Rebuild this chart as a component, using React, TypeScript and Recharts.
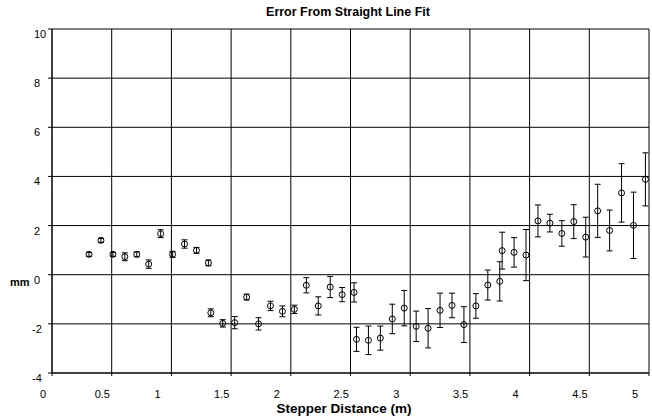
import React from "react";
import { ScatterChart, Scatter, XAxis, YAxis, CartesianGrid, ErrorBar } from "recharts";

const distances = [
  0.31, 0.41, 0.51, 0.61, 0.71, 0.81, 0.91, 1.01, 1.11, 1.21, 1.31,
  1.33, 1.43, 1.53, 1.63, 1.73, 1.83, 1.93, 2.03, 2.13, 2.23, 2.33, 2.43, 2.53,
  2.55, 2.65, 2.75, 2.85, 2.95, 3.05, 3.15, 3.25, 3.35, 3.45, 3.55, 3.65, 3.75,
  3.77, 3.87, 3.97, 4.07, 4.17, 4.27, 4.37, 4.47, 4.57, 4.67, 4.77, 4.87, 4.97,
];
const errorsMm = [
  0.83, 1.4, 0.83, 0.73, 0.83, 0.43, 1.67, 0.83, 1.25, 0.99, 0.48,
  -1.55, -1.98, -1.95, -0.91, -2.0, -1.27, -1.49, -1.41, -0.43, -1.27, -0.5, -0.81, -0.72,
  -2.63, -2.67, -2.58, -1.8, -1.36, -2.1, -2.18, -1.45, -1.25, -2.03, -1.27, -0.42, -0.27,
  0.98, 0.91, 0.8, 2.19, 2.1, 1.68, 2.16, 1.53, 2.6, 1.8, 3.33, 2.01, 3.88,
];
const uncertainty = [
  0.08, 0.08, 0.08, 0.16, 0.1, 0.17, 0.16, 0.12, 0.17, 0.12, 0.12,
  0.16, 0.15, 0.25, 0.12, 0.25, 0.19, 0.22, 0.17, 0.31, 0.37, 0.43, 0.29, 0.39,
  0.49, 0.58, 0.49, 0.6, 0.72, 0.62, 0.8, 0.7, 0.5, 0.73, 0.5, 0.61, 0.8,
  0.75, 0.6, 1.04, 0.65, 0.36, 0.52, 0.69, 0.81, 1.08, 0.83, 1.19, 1.35, 1.08,
];
const xTicks = [0, 0.5, 1, 1.5, 2, 2.5, 3, 3.5, 4, 4.5, 5];
const yTicks = [-4, -2, 0, 2, 4, 6, 8, 10];

const data = distances.map((d, i) => ({ x: d, y: errorsMm[i], err: uncertainty[i] }));

const FONT = "'Liberation Sans', Arial, sans-serif";

const XTick = (props: any) => {
  const { x, y, payload } = props;
  const left = Math.max(x - 17, 40);
  return (
    <text x={left} y={y + 20} fontSize={11} fontFamily={FONT} fill="#000" textAnchor="start">
      {payload.value}
    </text>
  );
};

const YTick = (props: any) => {
  const { y, payload } = props;
  const v = payload.value;
  return (
    <text x={v < 0 ? 32 : 34} y={y + 9} fontSize={11} fontFamily={FONT} fill="#000" textAnchor="start">
      {v}
    </text>
  );
};

const Dot = (props: any) => {
  const { cx, cy } = props;
  return <circle cx={cx} cy={cy} r={3} fill="none" stroke="#000" strokeWidth={1} />;
};

export default function App() {
  return (
    <div style={{ position: "absolute", left: 0, top: 0, width: 652, height: 418, background: "#fff" }}>
      <ScatterChart width={652} height={418} margin={{ top: 29, right: 3, bottom: 20, left: 0 }}>
        <CartesianGrid stroke="#000" strokeWidth={1} horizontalValues={yTicks} verticalValues={xTicks} />
        <XAxis
          type="number"
          dataKey="x"
          domain={[0, 5]}
          ticks={xTicks}
          interval={0}
          height={25}
          tickSize={3}
          tick={<XTick />}
          stroke="#000"
          tickLine={{ stroke: "#000" }}
          axisLine={{ stroke: "#000" }}
        />
        <YAxis
          type="number"
          dataKey="y"
          domain={[-4, 10]}
          ticks={yTicks}
          interval={0}
          width={52}
          tickSize={4}
          tick={<YTick />}
          stroke="#000"
          tickLine={{ stroke: "#000" }}
          axisLine={{ stroke: "#000" }}
        />
        <Scatter data={data} shape={<Dot />} isAnimationActive={false}>
          <ErrorBar dataKey="err" direction="y" width={3} stroke="#000" strokeWidth={1} />
        </Scatter>
      </ScatterChart>
      <div style={{ position: "absolute", left: 0, width: 696, top: 5, textAlign: "center", fontFamily: FONT, fontWeight: "bold", fontSize: 12.5, lineHeight: "15px" }}>
        Error From Straight Line Fit
      </div>
      <div style={{ position: "absolute", left: 0, width: 688, top: 401, textAlign: "center", fontFamily: FONT, fontWeight: "bold", fontSize: 13.5, lineHeight: "16px" }}>
        Stepper Distance (m)
      </div>
      <div style={{ position: "absolute", left: 10, top: 276, fontFamily: FONT, fontWeight: "bold", fontSize: 11 }}>
        mm
      </div>
    </div>
  );
}
